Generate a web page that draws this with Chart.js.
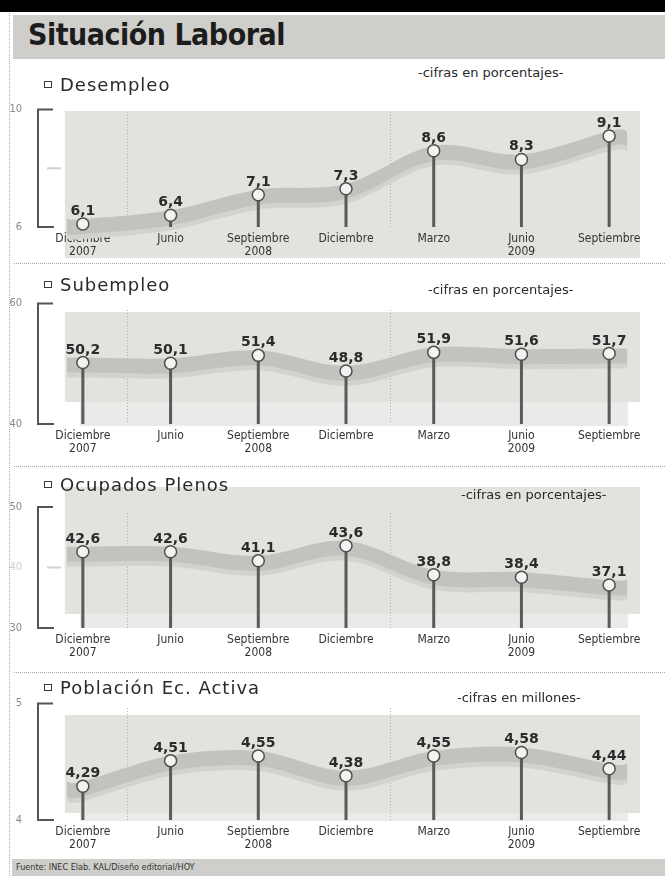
<!DOCTYPE html>
<html>
<head>
<meta charset="utf-8">
<title>Situación Laboral</title>
<script src="https://cdn.jsdelivr.net/npm/chart.js@4/dist/chart.umd.min.js"></script>
<style>
  html, body { margin: 0; padding: 0; background: #fff; }
  #page { position: relative; width: 665px; height: 876px; overflow: hidden; background: #fff;
          font-family: 'DejaVu Sans', sans-serif; color: #2a2a2a; }
  .topbar { position: absolute; left: 0; top: 0; width: 665px; height: 12px; background: #000; }
  .vdots { position: absolute; left: 9px; top: 13px; height: 863px; border-left: 1px dotted #b0b0b0; }
  .hdots { position: absolute; left: 14px; width: 651px; border-top: 1px dotted #a8a8a8; }
  .titleband { position: absolute; left: 13px; top: 15px; width: 652px; height: 44px; background: #cfcecb; }
  .title { position: absolute; left: 28px; top: 17px; font: bold 30px 'DejaVu Sans Condensed', 'DejaVu Sans', sans-serif;
           color: #1c1c1c; letter-spacing: -0.5px; white-space: nowrap; }
  canvas { position: absolute; left: 0; z-index: 1; }
  .ptitle { position: absolute; left: 44px; font-size: 18px; line-height: 20px; letter-spacing: 1px; color: #2a2a2a;
            z-index: 2; white-space: nowrap; }
  .ptitle .box { display: inline-block; width: 6px; height: 5px; border: 1.5px solid #3a3a3a; margin-right: 8px;
                 vertical-align: middle; position: relative; top: -2px; }
  .sub { position: absolute; font-size: 13px; line-height: 15px; color: #2a2a2a; z-index: 2; white-space: nowrap; }
  .footer { position: absolute; left: 12px; top: 859px; width: 653px; height: 17px; background: #cfcecb; }
  .footer span { position: absolute; left: 4px; top: 3px; font: 9px 'DejaVu Sans Condensed', 'DejaVu Sans', sans-serif;
                 color: #333; white-space: nowrap; }
</style>
</head>
<body>
<div id="page">
  <div class="topbar"></div>
  <div class="vdots"></div>
  <div class="titleband"></div>
  <div class="title">Situación Laboral</div>

  <div class="ptitle" style="top:75px"><span class="box"></span>Desempleo</div>
  <div class="sub" style="left:418px;top:65px">-cifras en porcentajes-</div>
  <div class="hdots" style="top:263px"></div>

  <div class="ptitle" style="top:275px"><span class="box"></span>Subempleo</div>
  <div class="sub" style="left:428px;top:282px">-cifras en porcentajes-</div>
  <div class="hdots" style="top:466px"></div>

  <div class="ptitle" style="top:475px"><span class="box"></span>Ocupados Plenos</div>
  <div class="sub" style="left:461px;top:487px">-cifras en porcentajes-</div>
  <div class="hdots" style="top:672px"></div>

  <div class="ptitle" style="top:678px"><span class="box"></span>Población Ec. Activa</div>
  <div class="sub" style="left:457px;top:690px">-cifras en millones-</div>

  <canvas id="c1" width="665" height="176" style="top:86px"></canvas>
  <canvas id="c2" width="665" height="176" style="top:280px"></canvas>
  <canvas id="c3" width="665" height="190" style="top:470px"></canvas>
  <canvas id="c4" width="665" height="178" style="top:680px"></canvas>

  <div class="footer"><span>Fuente: INEC Elab. KAL/Diseño editorial/HOY</span></div>
</div>

<script>
// Quarterly labour-market indicators, December 2007 to September 2009
const categories = [['Diciembre', '2007'], 'Junio', ['Septiembre', '2008'], 'Diciembre',
                    'Marzo', ['Junio', '2009'], 'Septiembre'];
const years = [2007, 2008, 2008, 2008, 2009, 2009, 2009];

const desempleo       = [6.1, 6.4, 7.1, 7.3, 8.6, 8.3, 9.1];
const subempleo       = [50.2, 50.1, 51.4, 48.8, 51.9, 51.6, 51.7];
const ocupadosPlenos  = [42.6, 42.6, 41.1, 43.6, 38.8, 38.4, 37.1];
const poblacionActiva = [4.29, 4.51, 4.55, 4.38, 4.55, 4.58, 4.44];

const desempleoTicks = [6, 8, 10];
const subempleoTicks = [40, 60];
const ocupadosTicks  = [30, 40, 50];
const poblacionTicks = [4, 5];

const COND = "'DejaVu Sans Condensed', 'DejaVu Sans', sans-serif";
const SANS = "'DejaVu Sans', sans-serif";

// Layout of each panel (canvas-relative pixels)
const panels = [
  { id: 'c1', data: desempleo,       ticks: desempleoTicks, dec: 1, plotTop: 14, axisH: 35,
    band: [25, 172], strip: null,       sepTop: 26, midLabel: false },
  { id: 'c2', data: subempleo,       ticks: subempleoTicks, dec: 1, plotTop: 18, axisH: 32,
    band: [32, 122], strip: [122, 146], sepTop: 30, midLabel: false },
  { id: 'c3', data: ocupadosPlenos,  ticks: ocupadosTicks,  dec: 1, plotTop: 37, axisH: 32,
    band: [17, 144], strip: [144, 158], sepTop: 43, midLabel: true },
  { id: 'c4', data: poblacionActiva, ticks: poblacionTicks, dec: 2, plotTop: 21, axisH: 38,
    band: [35, 133], strip: [133, 141], sepTop: 28, midLabel: false }
];

function fmt(v, dec) { return v.toFixed(dec).replace('.', ','); }

// Cubic segments of a Catmull-Rom curve through the given points
function curveSegments(pts) {
  const segs = [];
  for (let i = 0; i < pts.length - 1; i++) {
    const p0 = pts[Math.max(0, i - 1)], p1 = pts[i], p2 = pts[i + 1], p3 = pts[Math.min(pts.length - 1, i + 2)];
    segs.push({
      a: p1,
      c1: { x: p1.x + (p2.x - p0.x) / 6, y: p1.y + (p2.y - p0.y) / 6 },
      c2: { x: p2.x - (p3.x - p1.x) / 6, y: p2.y - (p3.y - p1.y) / 6 },
      b: p2
    });
  }
  return segs;
}

function ribbonPath(c, segs, top, bot) {
  c.beginPath();
  c.moveTo(segs[0].a.x, segs[0].a.y + top);
  segs.forEach(s => c.bezierCurveTo(s.c1.x, s.c1.y + top, s.c2.x, s.c2.y + top, s.b.x, s.b.y + top));
  const last = segs[segs.length - 1].b;
  c.lineTo(last.x, last.y + bot);
  for (let i = segs.length - 1; i >= 0; i--) {
    const s = segs[i];
    c.bezierCurveTo(s.c2.x, s.c2.y + bot, s.c1.x, s.c1.y + bot, s.a.x, s.a.y + bot);
  }
  c.closePath();
}

function decor(p) {
  const lo = p.ticks[0], hi = p.ticks[p.ticks.length - 1];
  return {
    id: 'decor',
    beforeDraw(chart) {
      const c = chart.ctx, xs = chart.scales.x, ys = chart.scales.y;
      const xFirst = xs.getPixelForValue(0), xLast = xs.getPixelForValue(p.data.length - 1);
      c.save();
      // backdrop
      c.fillStyle = '#e3e2df';
      c.fillRect(xFirst - 18, p.band[0], (xLast + 31) - (xFirst - 18), p.band[1] - p.band[0]);
      if (p.strip) {
        c.fillStyle = '#eceae8';
        c.fillRect(xFirst - 3, p.strip[0], (xLast + 19) - (xFirst - 3), p.strip[1] - p.strip[0]);
      }
      // dotted separators between years
      c.strokeStyle = '#aeaeae'; c.lineWidth = 1; c.setLineDash([1, 2]);
      for (let i = 1; i < years.length; i++) {
        if (years[i] !== years[i - 1]) {
          const x = Math.round((xs.getPixelForValue(i - 1) + xs.getPixelForValue(i)) / 2) + 0.5;
          c.beginPath(); c.moveTo(x, p.sepTop); c.lineTo(x, ys.getPixelForValue(lo)); c.stroke();
        }
      }
      c.setLineDash([]);
      // bracket-shaped value axis
      const yTop = ys.getPixelForValue(hi), yBot = ys.getPixelForValue(lo);
      c.strokeStyle = '#555'; c.lineWidth = 2; c.lineJoin = 'miter';
      c.beginPath(); c.moveTo(53, yTop); c.lineTo(38, yTop); c.lineTo(38, yBot); c.lineTo(54, yBot); c.stroke();
      c.strokeStyle = '#d0d0d0';
      p.ticks.slice(1, -1).forEach(v => {
        const y = ys.getPixelForValue(v);
        c.beginPath(); c.moveTo(47, y); c.lineTo(61, y); c.stroke();
      });
      c.restore();
    },
    beforeDatasetsDraw(chart) {
      const c = chart.ctx, ys = chart.scales.y;
      const pts = chart.getDatasetMeta(0).data.map(e => ({ x: e.x, y: e.y }));
      const path = [{ x: pts[0].x - 16, y: pts[0].y }, ...pts, { x: pts[pts.length - 1].x + 18, y: pts[pts.length - 1].y }];
      const segs = curveSegments(path);
      c.save();
      c.filter = 'blur(0.5px)';
      ribbonPath(c, segs, 9, 15); c.fillStyle = '#d3d2cf'; c.fill();
      ribbonPath(c, segs, -5, 10); c.fillStyle = '#c3c2bf'; c.fill();
      c.filter = 'none';
      // stems from each point down to the baseline
      const yBot = ys.getPixelForValue(p.ticks[0]);
      c.strokeStyle = '#5a5a5a'; c.lineWidth = 3;
      pts.forEach(pt => { c.beginPath(); c.moveTo(pt.x, pt.y); c.lineTo(pt.x, yBot); c.stroke(); });
      c.restore();
    },
    afterDatasetsDraw(chart) {
      const c = chart.ctx;
      c.save();
      c.font = 'bold 14px ' + SANS;
      c.fillStyle = '#2b2b2b'; c.textAlign = 'center'; c.textBaseline = 'alphabetic';
      chart.getDatasetMeta(0).data.forEach((e, i) => c.fillText(fmt(p.data[i], p.dec), e.x, e.y - 9));
      c.restore();
    }
  };
}

panels.forEach(p => {
  const lo = p.ticks[0], hi = p.ticks[p.ticks.length - 1];
  const isInner = v => v !== lo && v !== hi;
  new Chart(document.getElementById(p.id), {
    type: 'line',
    data: {
      labels: categories,
      datasets: [{
        data: p.data, showLine: false, clip: false,
        pointRadius: 6, pointHoverRadius: 6, pointBorderWidth: 1.5,
        pointBorderColor: '#4e4e4e', pointBackgroundColor: '#f3f3f1'
      }]
    },
    options: {
      responsive: false, animation: false, events: [],
      layout: { padding: { top: p.plotTop, right: 12, left: 0, bottom: 0 } },
      plugins: { legend: { display: false }, tooltip: { enabled: false } },
      scales: {
        x: {
          type: 'category', offset: true,
          grid: { display: false, drawTicks: false }, border: { display: false },
          ticks: { color: '#333', font: { family: COND, size: 12, lineHeight: 1.05 }, padding: 6,
                   maxRotation: 0, autoSkip: false },
          afterFit: s => { s.height = p.axisH; }
        },
        y: {
          min: lo, max: hi,
          grid: { display: false, drawTicks: false }, border: { display: false },
          afterBuildTicks: s => { s.ticks = p.ticks.map(v => ({ value: v })); },
          afterFit: s => { s.width = 39; },
          ticks: {
            padding: 17, font: { family: COND, size: 11 },
            color: ctx => isInner(ctx.tick.value) ? '#cfcfcf' : '#888',
            callback: v => (isInner(v) && !p.midLabel) ? '' : String(v)
          }
        }
      }
    },
    plugins: [decor(p)]
  });
});
</script>
</body>
</html>
